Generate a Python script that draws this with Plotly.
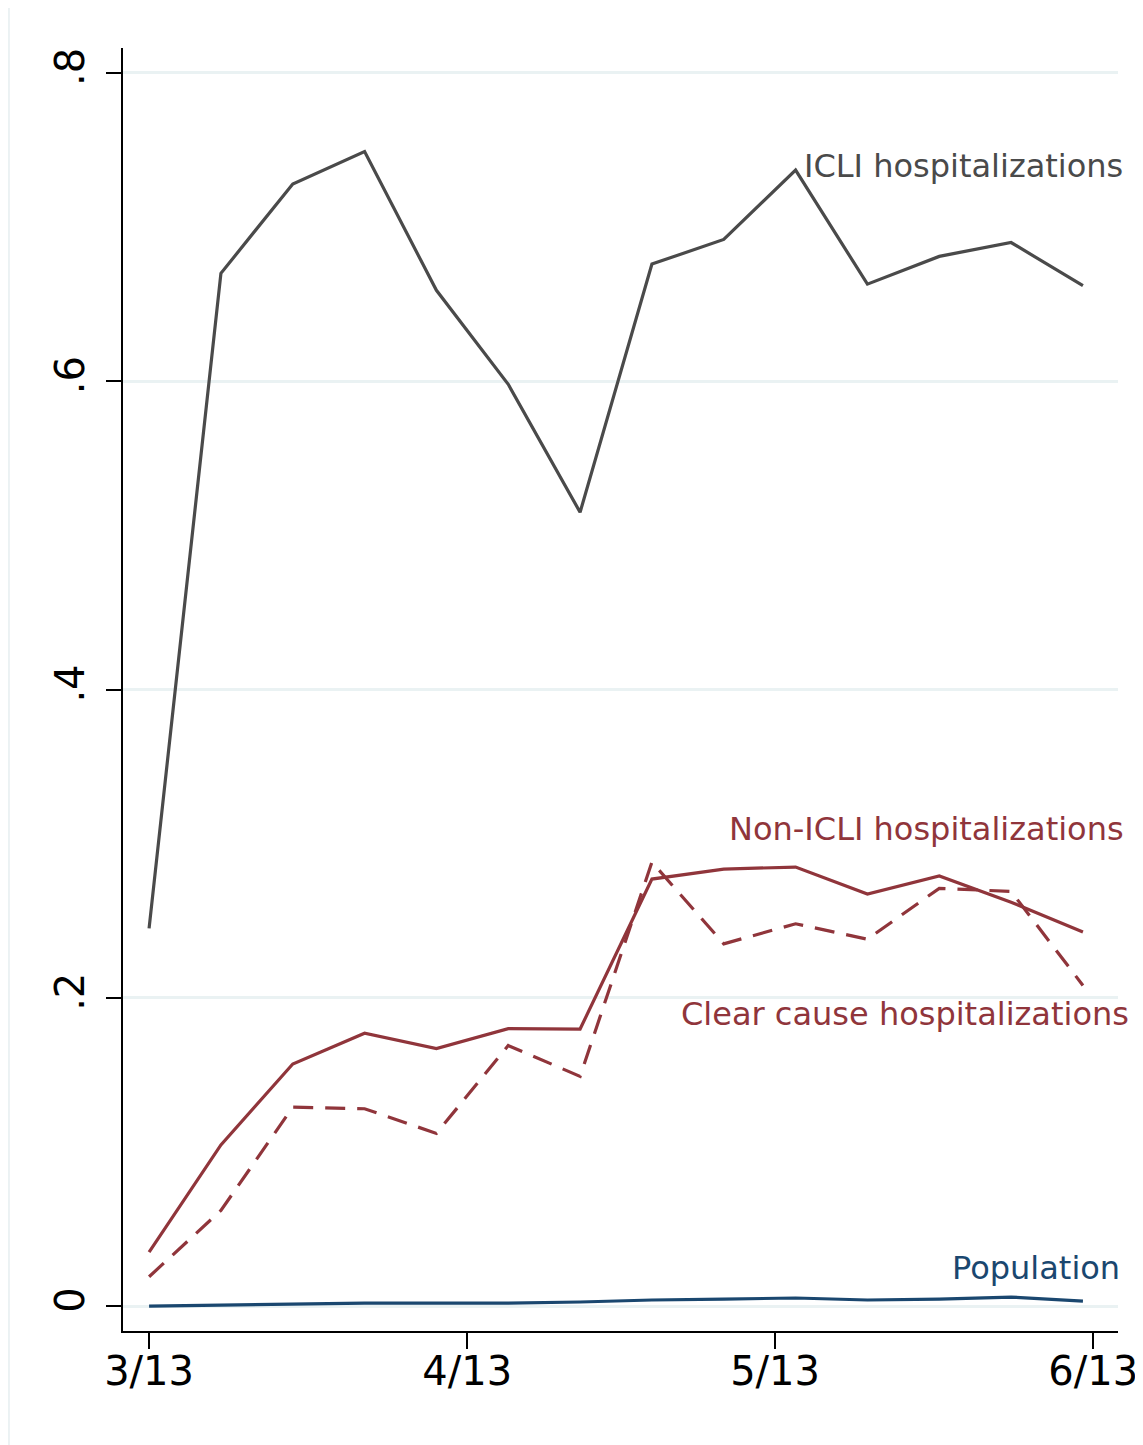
"""Weekly hospitalization shares, Stata-style line chart."""

import plotly.graph_objects as go

WEEKS = [
    "2020-03-13", "2020-03-20", "2020-03-27", "2020-04-03", "2020-04-10",
    "2020-04-17", "2020-04-24", "2020-05-01", "2020-05-08", "2020-05-15",
    "2020-05-22", "2020-05-29", "2020-06-05", "2020-06-12",
]

icli = [0.245, 0.670, 0.728, 0.749, 0.659, 0.598, 0.515, 0.676, 0.692, 0.737,
        0.663, 0.681, 0.690, 0.662]
non_icli = [0.035, 0.1045, 0.157, 0.177, 0.167, 0.180, 0.1797, 0.277, 0.2835,
            0.2848, 0.2673, 0.279, 0.262, 0.2427]
clear_cause = [0.019, 0.062, 0.129, 0.128, 0.112, 0.169, 0.149, 0.288, 0.235,
               0.248, 0.238, 0.271, 0.269, 0.208]
population = [0.0, 0.0006, 0.0013, 0.0019, 0.0019, 0.0019, 0.0026, 0.0039,
              0.0045, 0.0052, 0.0039, 0.0045, 0.0058, 0.0032]

X_TICKS = ["2020-03-13", "2020-04-13", "2020-05-13", "2020-06-13"]
X_LABELS = ["3/13", "4/13", "5/13", "6/13"]
Y_TICKS = [0, 0.2, 0.4, 0.6, 0.8]
Y_LABELS = ["0", ".2", ".4", ".6", ".8"]

GRAY = "#4a4a4a"
MAROON = "#90353B"
NAVY = "#1A476F"
GRID = "#EAF2F3"
FONT = "DejaVu Sans"

fig = go.Figure()

fig.add_trace(go.Scatter(x=WEEKS, y=icli, mode="lines",
                         line=dict(color=GRAY, width=3.2)))
fig.add_trace(go.Scatter(x=WEEKS, y=non_icli, mode="lines",
                         line=dict(color=MAROON, width=3.2)))
fig.add_trace(go.Scatter(x=WEEKS, y=clear_cause, mode="lines",
                         line=dict(color=MAROON, width=3.2, dash="20px,12px")))
fig.add_trace(go.Scatter(x=WEEKS, y=population, mode="lines",
                         line=dict(color=NAVY, width=3.2)))

labels = [
    ("ICLI hospitalizations", 0.7397, 1.007, GRAY),
    ("Non-ICLI hospitalizations", 0.3095, 1.008, MAROON),
    ("Clear cause hospitalizations", 0.1895, 1.013, MAROON),
    ("Population", 0.0247, 1.004, NAVY),
]
for text, y, xp, color in labels:
    fig.add_annotation(text=text, x=xp, xref="paper", y=y, yref="y",
                       xanchor="right", yanchor="middle", showarrow=False,
                       font=dict(family=FONT, size=32, color=color))

# faint outer frame line on the left edge
fig.add_shape(type="line", xref="paper", yref="paper",
              x0=-0.1146, x1=-0.1146, y0=-0.09, y1=1.04,
              line=dict(color="#E6EEF0", width=1.5))

# the page body adds an 8px offset, so margins are shifted to compensate
fig.update_layout(
    width=1143,
    height=1445,
    plot_bgcolor="white",
    paper_bgcolor="white",
    showlegend=False,
    margin=dict(l=115, r=33, t=40, b=122),
    font=dict(family=FONT, size=40, color="black"),
    xaxis=dict(
        type="date",
        range=["2020-03-10 11:00", "2020-06-15 10:00"],
        tickvals=X_TICKS,
        ticktext=X_LABELS,
        ticks="outside",
        ticklen=16,
        tickwidth=2,
        tickcolor="black",
        ticklabelstandoff=-12,
        showline=True,
        linecolor="black",
        linewidth=2,
        showgrid=False,
        zeroline=False,
        tickfont=dict(size=40),
    ),
    yaxis=dict(
        range=[-0.0162, 0.8162],
        tickvals=Y_TICKS,
        ticktext=Y_LABELS,
        tickangle=-90,
        ticks="outside",
        ticklen=15,
        tickwidth=2,
        tickcolor="black",
        ticklabelstandoff=6,
        showline=True,
        linecolor="black",
        linewidth=2,
        showgrid=True,
        gridcolor=GRID,
        gridwidth=3,
        zeroline=False,
        tickfont=dict(size=40),
    ),
)

fig.write_html("out.html")
